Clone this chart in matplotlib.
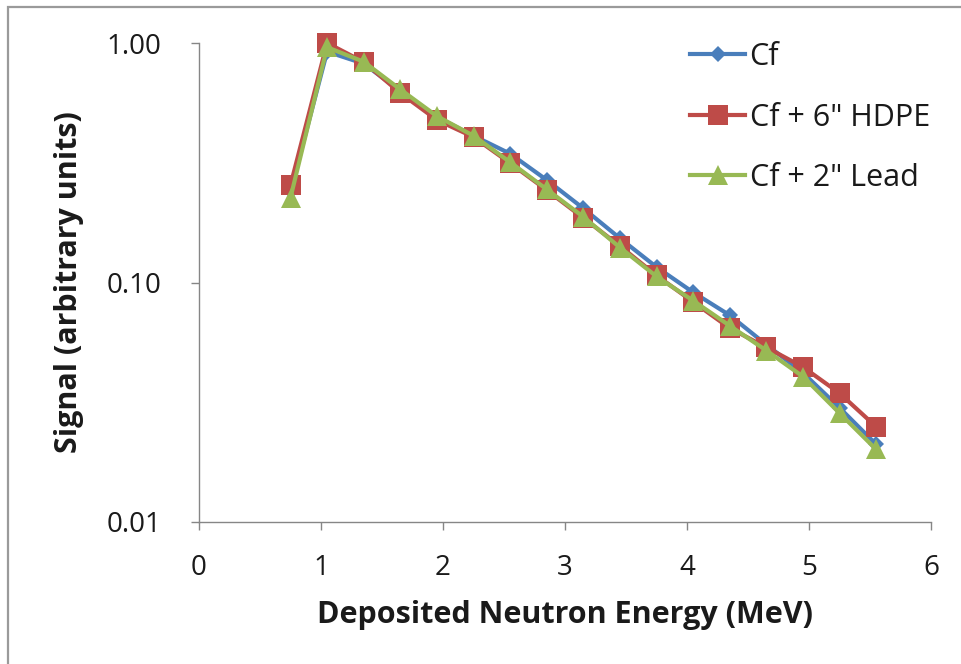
import matplotlib
matplotlib.use("Agg")
import matplotlib.pyplot as plt
from matplotlib.ticker import FixedLocator, FixedFormatter, NullLocator
from matplotlib.patches import Rectangle

# ---- data ----
energy = [0.75, 1.05, 1.35, 1.65, 1.95, 2.25, 2.55, 2.85, 3.15,
          3.45, 3.75, 4.05, 4.35, 4.65, 4.95, 5.25, 5.55]
cf = [0.24, 0.92, 0.82, 0.63, 0.49, 0.41, 0.345, 0.268, 0.204,
      0.153, 0.116, 0.091, 0.073, 0.055, 0.042, 0.030, 0.0211]
cf_hdpe = [0.255, 1.00, 0.833, 0.618, 0.477, 0.405, 0.315, 0.243, 0.186,
           0.142, 0.107, 0.083, 0.0645, 0.0536, 0.0444, 0.0345, 0.0250]
cf_lead = [0.226, 0.96, 0.835, 0.64, 0.495, 0.41, 0.318, 0.245, 0.188,
           0.14, 0.106, 0.084, 0.066, 0.052, 0.0405, 0.0285, 0.0201]
series_labels = ["Cf", "Cf + 6\" HDPE", "Cf + 2\" Lead"]
x_ticks = [0, 1, 2, 3, 4, 5, 6]
y_ticks = [0.01, 0.1, 1.0]
y_tick_labels = ["0.01", "0.10", "1.00"]
x_label = "Deposited Neutron Energy (MeV)"
y_label = "Signal (arbitrary units)"

plt.rcParams['font.family'] = ['Open Sans', 'DejaVu Sans']

W, H = 961, 664
fig = plt.figure(figsize=(W / 100, H / 100), dpi=100)
fig.patch.set_facecolor("white")

# outer chart border
fig.add_artist(Rectangle((8 / W, -0.05), 1.2, 1 - 7 / H + 0.05,
                         transform=fig.transFigure, fill=False,
                         edgecolor="#9a9a9a", linewidth=1.6))

ax = fig.add_axes([199 / W, 1 - 522 / H, (931 - 199) / W, (522 - 43) / H])
ax.set_yscale("log")
ax.set_xlim(0, 6)
ax.set_ylim(0.01, 1.0)

blue = "#4A7EBB"
red = "#BE4B48"
green = "#98B954"

ax.plot(energy, cf, color=blue, lw=3.0, marker="D", markersize=8.5,
        markeredgewidth=0, label=series_labels[0], zorder=3, clip_on=False)
ax.plot(energy, cf_hdpe, color=red, lw=3.0, marker="s", markersize=14.5,
        markeredgewidth=0, label=series_labels[1], zorder=4, clip_on=False)
ax.plot(energy, cf_lead, color=green, lw=3.0, marker="^", markersize=15,
        markeredgewidth=0, label=series_labels[2], zorder=5, clip_on=False)

for s in ["top", "right"]:
    ax.spines[s].set_visible(False)
for s in ["left", "bottom"]:
    ax.spines[s].set_color("#868686")
    ax.spines[s].set_linewidth(1.0)

ax.xaxis.set_major_locator(FixedLocator(x_ticks))
ax.yaxis.set_major_locator(FixedLocator(y_ticks))
ax.yaxis.set_major_formatter(FixedFormatter(y_tick_labels))
ax.yaxis.set_minor_locator(NullLocator())
ax.tick_params(axis="both", which="major", direction="out", length=6,
               width=1.0, color="#868686", labelsize=20, labelcolor="#1a1a1a")
ax.tick_params(axis="x", pad=17)
ax.tick_params(axis="y", pad=21)

ax.set_xlabel(x_label, fontsize=22, fontweight="bold", color="#1a1a1a",
              labelpad=13)
ax.set_ylabel(y_label, fontsize=22, fontweight="bold", color="#1a1a1a",
              labelpad=16)

leg = ax.legend(loc="upper left", bbox_to_anchor=(690 / W, 1 - 42 / H),
                bbox_transform=fig.transFigure, frameon=False,
                fontsize=22, handlelength=1.8, handletextpad=0.15,
                labelspacing=1.0, borderpad=0, borderaxespad=0)
for t in leg.get_texts():
    t.set_color("#1a1a1a")

fig.savefig("out.png", dpi=100, facecolor="white")
